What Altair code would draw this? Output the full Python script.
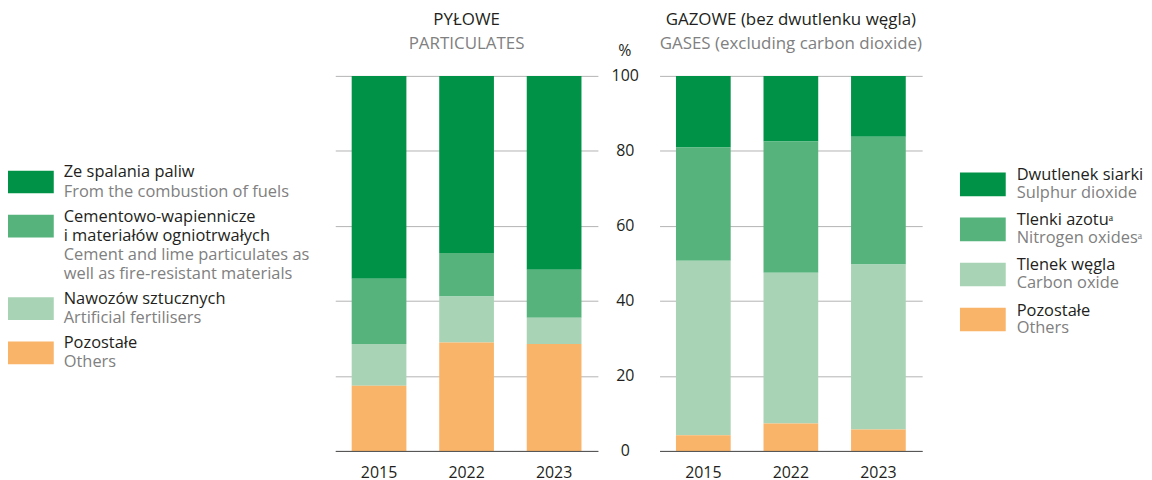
import altair as alt
import pandas as pd

# ---------------- data ----------------
years = ["2015", "2022", "2023"]

# Particulates (PYŁOWE), % shares
part_fuels = [54.1, 47.2, 51.7]      # Ze spalania paliw
part_cement = [17.4, 11.6, 12.8]     # Cementowo-wapiennicze i materiałów ogniotrwałych
part_fert = [11.1, 12.3, 7.0]        # Nawozów sztucznych
part_others = [17.4, 28.9, 28.5]     # Pozostałe

# Gases (GAZOWE), % shares
gas_so2 = [19.1, 17.5, 16.2]         # Dwutlenek siarki
gas_nox = [30.2, 35.0, 34.1]         # Tlenki azotu
gas_co = [46.5, 40.2, 44.0]          # Tlenek węgla
gas_others = [4.2, 7.3, 5.7]         # Pozostałe

y_ticks = [0, 20, 40, 60, 80, 100]

left_legend = [
    (["Ze spalania paliw"], ["From the combustion of fuels"]),
    (["Cementowo-wapiennicze", "i materiałów ogniotrwałych"],
     ["Cement and lime particulates as", "well as fire-resistant materials"]),
    (["Nawozów sztucznych"], ["Artificial fertilisers"]),
    (["Pozostałe"], ["Others"]),
]
right_legend = [
    (["Dwutlenek siarki"], ["Sulphur dioxide"]),
    (["Tlenki azotuᵃ"], ["Nitrogen oxidesᵃ"]),
    (["Tlenek węgla"], ["Carbon oxide"]),
    (["Pozostałe"], ["Others"]),
]

# ---------------- styling ----------------
FONT = "Open Sans"
DARK = "#231f20"
GREY = "#808080"
keys = ["k3", "k2", "k1", "k0"]  # top ... bottom
key_colors = ["#009246", "#55b37b", "#a8d3b4", "#f9b469"]
PLOT_W = 264
PLOT_H = 377


def stack_df(series_top_to_bottom):
    rows = []
    for rank_from_top, vals in enumerate(series_top_to_bottom):
        for yr, v in zip(years, vals):
            rows.append({"year": yr, "value": v, "key": keys[rank_from_top],
                         "rank": 3 - rank_from_top})
    return pd.DataFrame(rows)


part_df = stack_df([part_fuels, part_cement, part_fert, part_others])
gas_df = stack_df([gas_so2, gas_nox, gas_co, gas_others])

color_enc = alt.Color("key:N", scale=alt.Scale(domain=keys, range=key_colors), legend=None)

x_axis = alt.Axis(title=None, labelAngle=0, ticks=False, tickSize=0, domainColor="#4d4d4d",
                  domainWidth=1, labelPadding=14, labelFontSize=16, labelFont=FONT,
                  labelColor=DARK, zindex=1)


def label_layer(text, color, size, x, y):
    return alt.Chart(pd.DataFrame({"t": [text]})).mark_text(
        align="center", baseline="middle", font=FONT, fontSize=size, color=color
    ).encode(text="t:N", x=alt.value(x), y=alt.value(y))


def panel(df, title, subtitle, y_axis, extra=()):
    bars = alt.Chart(df).mark_bar().encode(
        x=alt.X("year:N", sort=years,
                scale=alt.Scale(paddingInner=0.375, paddingOuter=0.1875), axis=x_axis),
        y=alt.Y("value:Q", stack="zero",
                scale=alt.Scale(domain=[0, 100], nice=False), axis=y_axis),
        color=color_enc,
        order=alt.Order("rank:Q"),
    )
    layers = [bars,
              label_layer(title, DARK, 17, PLOT_W / 2, -56.5),
              label_layer(subtitle, GREY, 17, PLOT_W / 2, -32.5)]
    layers += list(extra)
    return alt.layer(*layers).properties(width=PLOT_W, height=PLOT_H)


left_y_axis = alt.Axis(orient="right", values=y_ticks, ticks=False, tickSize=0, domain=False,
                       grid=True, gridColor="#b3b3b3", gridWidth=1,
                       labelAlign="center", labelPadding=27, labelFontSize=16, labelFont=FONT,
                       labelColor=DARK, title=None)
right_y_axis = alt.Axis(values=y_ticks, ticks=False, domain=False, labels=False, grid=True,
                        gridColor="#b3b3b3", gridWidth=1, title=None)

left_panel = panel(part_df, "PYŁOWE", "PARTICULATES", left_y_axis,
                   extra=[label_layer("%", DARK, 16, PLOT_W + 27, -25)])
right_panel = panel(gas_df, "GAZOWE (bez dwutlenku węgla)", "GASES (excluding carbon dioxide)",
                    right_y_axis)


def legend_chart(entries, gap, half, first_px, line_px, width, sw_x, text_x):
    lines, swatches = [], []
    n = 0
    for e, (pl, en) in enumerate(entries):
        start = n + gap * e
        c = start + 0.5
        swatches.append({"y": c - half, "y2": c + half, "key": keys[e]})
        for t in pl:
            lines.append({"pos": n + gap * e, "text": t, "kind": "pl"})
            n += 1
        for t in en:
            lines.append({"pos": n + gap * e, "text": t, "kind": "en"})
            n += 1
    d0 = -first_px / line_px
    d1 = d0 + PLOT_H / line_px
    yscale = alt.Scale(domain=[d0, d1], reverse=True, nice=False, zero=False)
    ldf = pd.DataFrame(lines)
    sdf = pd.DataFrame(swatches)
    rect = alt.Chart(sdf).mark_rect().encode(
        x=alt.value(sw_x), x2=alt.value(sw_x + 46),
        y=alt.Y("y:Q", scale=yscale, axis=None), y2="y2:Q",
        color=color_enc,
    )
    base_txt = alt.Chart(ldf).encode(
        x=alt.value(text_x), y=alt.Y("pos:Q", scale=yscale, axis=None), text="text:N")
    t_pl = base_txt.transform_filter(alt.datum.kind == "pl").mark_text(
        align="left", baseline="middle", font=FONT, fontSize=16.5, color=DARK)
    t_en = base_txt.transform_filter(alt.datum.kind == "en").mark_text(
        align="left", baseline="middle", font=FONT, fontSize=16.5, color=GREY)
    return alt.layer(rect, t_pl, t_en).properties(width=width, height=PLOT_H)


leg_left = legend_chart(left_legend, gap=0.3, half=0.59, first_px=97, line_px=19.3,
                        width=307, sw_x=-1, text_x=55)
leg_right = legend_chart(right_legend, gap=0.517, half=0.66, first_px=100, line_px=18.0,
                         width=190, sw_x=17, text_x=74)

chart = alt.hconcat(leg_left, left_panel, right_panel, leg_right, spacing=21).properties(
    padding={"left": 0, "top": 1, "right": 0, "bottom": 0}
).configure_view(stroke=None)

chart.save("out.html", embed_options={"renderer": "svg", "actions": False})
